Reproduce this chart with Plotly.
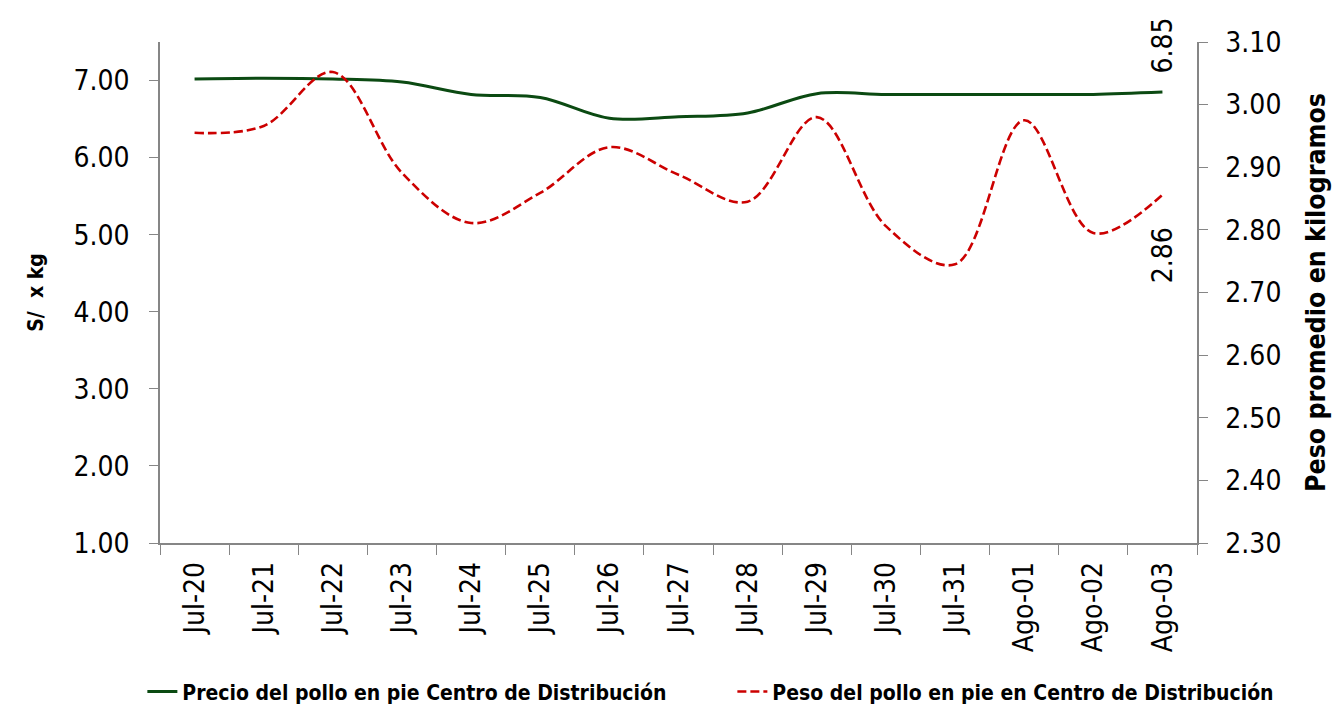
import plotly.graph_objects as go

# categories (dates)
fechas = ["Jul-20", "Jul-21", "Jul-22", "Jul-23", "Jul-24", "Jul-25", "Jul-26",
          "Jul-27", "Jul-28", "Jul-29", "Jul-30", "Jul-31", "Ago-01", "Ago-02", "Ago-03"]

# S/ x kg (left axis)
precio = [7.02, 7.03, 7.02, 6.98, 6.82, 6.78, 6.51, 6.53, 6.58, 6.83,
          6.82, 6.82, 6.82, 6.82, 6.85]

# kg (right axis)
peso = [2.955, 2.966, 3.052, 2.891, 2.811, 2.859, 2.932, 2.888, 2.845, 2.980,
        2.806, 2.745, 2.975, 2.795, 2.856]

FONT = "DejaVu Sans Condensed, Liberation Sans Narrow, Arial Narrow, sans-serif"
AXIS_GREY = "#868686"
TICK_SIZE = 28

fig = go.Figure()

fig.add_trace(go.Scatter(
    x=fechas, y=precio,
    name="Precio del pollo en pie Centro de Distribución",
    mode="lines",
    line=dict(color="#0b4a12", width=3, shape="spline", smoothing=1.0),
    yaxis="y",
))

fig.add_trace(go.Scatter(
    x=fechas, y=peso,
    name="Peso del pollo en pie en Centro de Distribución",
    mode="lines",
    line=dict(color="#cc0000", width=2.6, dash="9px,4px", shape="spline", smoothing=1.0),
    yaxis="y2",
))

# last-point data labels
fig.add_annotation(
    x=fechas[-1], y=precio[-1], xref="x", yref="y",
    text=f"{precio[-1]:.2f}", showarrow=False, textangle=-90,
    font=dict(family=FONT, size=TICK_SIZE, color="#000000"),
    yshift=47,
)
fig.add_annotation(
    x=fechas[-1], y=peso[-1], xref="x", yref="y2",
    text=f"{peso[-1]:.2f}", showarrow=False, textangle=-90,
    font=dict(family=FONT, size=TICK_SIZE, color="#000000"),
    yshift=-60,
)

# the page body adds an 8px offset, margins compensate for it
fig.update_layout(
    width=1340,
    height=706,
    paper_bgcolor="white",
    plot_bgcolor="white",
    margin=dict(l=152, r=151, t=34, b=171, autoexpand=False),
    font=dict(family=FONT, size=TICK_SIZE, color="#000000"),
    showlegend=True,
    legend=dict(
        orientation="h",
        x=-0.017, xanchor="left", xref="paper",
        y=-0.297, yanchor="middle", yref="paper",
        font=dict(family=FONT, size=21, color="#000000", weight="bold"),
        entrywidth=545,
        bgcolor="rgba(0,0,0,0)",
    ),
    xaxis=dict(
        type="category",
        range=[-0.5, len(fechas) - 0.5],
        tickangle=-90,
        tickson="boundaries",
        ticks="outside",
        ticklen=10,
        tickcolor=AXIS_GREY,
        ticklabelstandoff=6,
        showline=True,
        linecolor=AXIS_GREY,
        linewidth=1.5,
        showgrid=False,
        zeroline=False,
        automargin=False,
        tickfont=dict(family=FONT, size=TICK_SIZE),
    ),
    yaxis=dict(
        range=[1.0, 7.5],
        tickvals=[1, 2, 3, 4, 5, 6, 7],
        tickformat=".2f",
        ticks="outside",
        ticklen=9,
        tickcolor=AXIS_GREY,
        ticklabelstandoff=14,
        showline=True,
        linecolor=AXIS_GREY,
        linewidth=1.5,
        showgrid=False,
        zeroline=False,
        automargin=False,
        tickfont=dict(family=FONT, size=TICK_SIZE),
        title=dict(text="S/  x kg", standoff=24,
                   font=dict(family=FONT, size=21, weight="bold")),
    ),
    yaxis2=dict(
        overlaying="y",
        side="right",
        range=[2.3, 3.1],
        tickvals=[2.3, 2.4, 2.5, 2.6, 2.7, 2.8, 2.9, 3.0, 3.1],
        tickformat=".2f",
        ticks="outside",
        ticklen=9,
        tickcolor=AXIS_GREY,
        ticklabelstandoff=12,
        showline=True,
        linecolor=AXIS_GREY,
        linewidth=1.5,
        showgrid=False,
        zeroline=False,
        automargin=False,
        tickfont=dict(family=FONT, size=TICK_SIZE),
        title=dict(text="Peso promedio en kilogramos", standoff=26,
                   font=dict(family=FONT, size=26.5, weight="bold")),
    ),
)

fig.write_html("out.html")
